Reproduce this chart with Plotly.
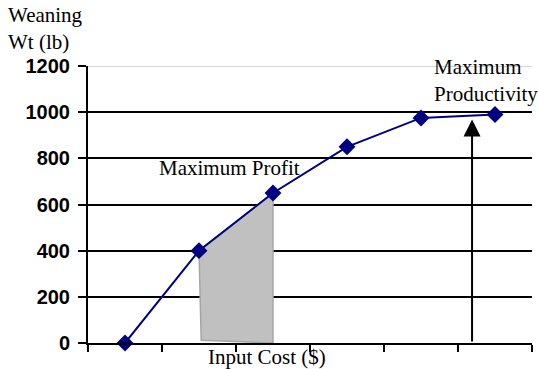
import plotly.graph_objects as go

categories = [0, 1, 2, 3, 4, 5]
weaning_wt = [0, 400, 650, 850, 975, 990]
y_ticks = [0, 200, 400, 600, 800, 1000, 1200]
x_ticks = [-0.5, 0.5, 1.5, 2.5, 3.5, 4.5, 5.5]

profit_x = [1, 2, 2, 1.03, 1]
profit_y = [400, 650, 0, 12, 400]

arrow_x = 4.69
arrow_tail_y = 0
arrow_tip_y = 968

navy = "#000080"
serif = "Liberation Serif"
sans = "Liberation Sans"

fig = go.Figure()

fig.add_trace(go.Scatter(
    x=profit_x, y=profit_y, mode="lines", fill="toself",
    fillcolor="#C0C0C0", line=dict(color="#A6A6A6", width=1.5),
    hoverinfo="skip", showlegend=False,
))

fig.add_trace(go.Scatter(
    x=categories, y=weaning_wt, mode="lines+markers",
    line=dict(color=navy, width=2),
    marker=dict(symbol="diamond", size=13, color=navy),
    cliponaxis=False, showlegend=False,
))

fig.add_annotation(
    x=arrow_x, y=arrow_tip_y, ax=arrow_x, ay=arrow_tail_y,
    xref="x", yref="y", axref="x", ayref="y",
    text="", showarrow=True, arrowhead=2, arrowsize=1.7,
    arrowwidth=2, arrowcolor="black",
)

fig.add_annotation(x=0.43, y=758, xref="x", yref="y", text="Maximum Profit",
                   showarrow=False, xanchor="left", yanchor="middle",
                   font=dict(family=serif, size=21, color="black"))
fig.add_annotation(x=4.15, y=1139, xref="x", yref="y",
                   text="Maximum<br>Productivity", showarrow=False,
                   xanchor="left", yanchor="middle", align="left",
                   font=dict(family=serif, size=21, color="black"))
fig.add_annotation(x=1.92, y=-0.05, xref="x", yref="paper", text="Input Cost ($)",
                   showarrow=False, xanchor="center", yanchor="middle",
                   font=dict(family=serif, size=21, color="black"))
fig.add_annotation(x=-0.185, y=1.235, xref="paper", yref="paper",
                   text="Weaning<br>Wt (lb)", showarrow=False,
                   xanchor="left", yanchor="top", align="left",
                   font=dict(family=serif, size=21, color="black"))

fig.update_xaxes(
    range=[-0.5, 5.5], tickvals=x_ticks, ticktext=[""] * len(x_ticks),
    ticks="outside", ticklen=7, tickwidth=2, tickcolor="black",
    showline=True, linecolor="black", linewidth=2,
    showgrid=False, zeroline=False,
)
fig.update_yaxes(
    range=[0, 1200], tickvals=y_ticks, ticks="outside", ticklen=8,
    tickwidth=2, tickcolor="black", ticklabelstandoff=4,
    tickfont=dict(family=sans, size=20, color="black", weight=700),
    showline=True, linecolor="black", linewidth=2,
    showgrid=True, gridcolor="black", gridwidth=2, zeroline=False,
)

fig.add_shape(type="line", xref="paper", yref="y", x0=0, x1=1, y0=1200, y1=1200,
              line=dict(color="#C8C8C8", width=1.5), layer="above")

fig.update_layout(
    width=539, height=369,
    margin=dict(l=88, r=7, t=66, b=26),
    plot_bgcolor="white", paper_bgcolor="white",
)

fig.write_html("out.html")
